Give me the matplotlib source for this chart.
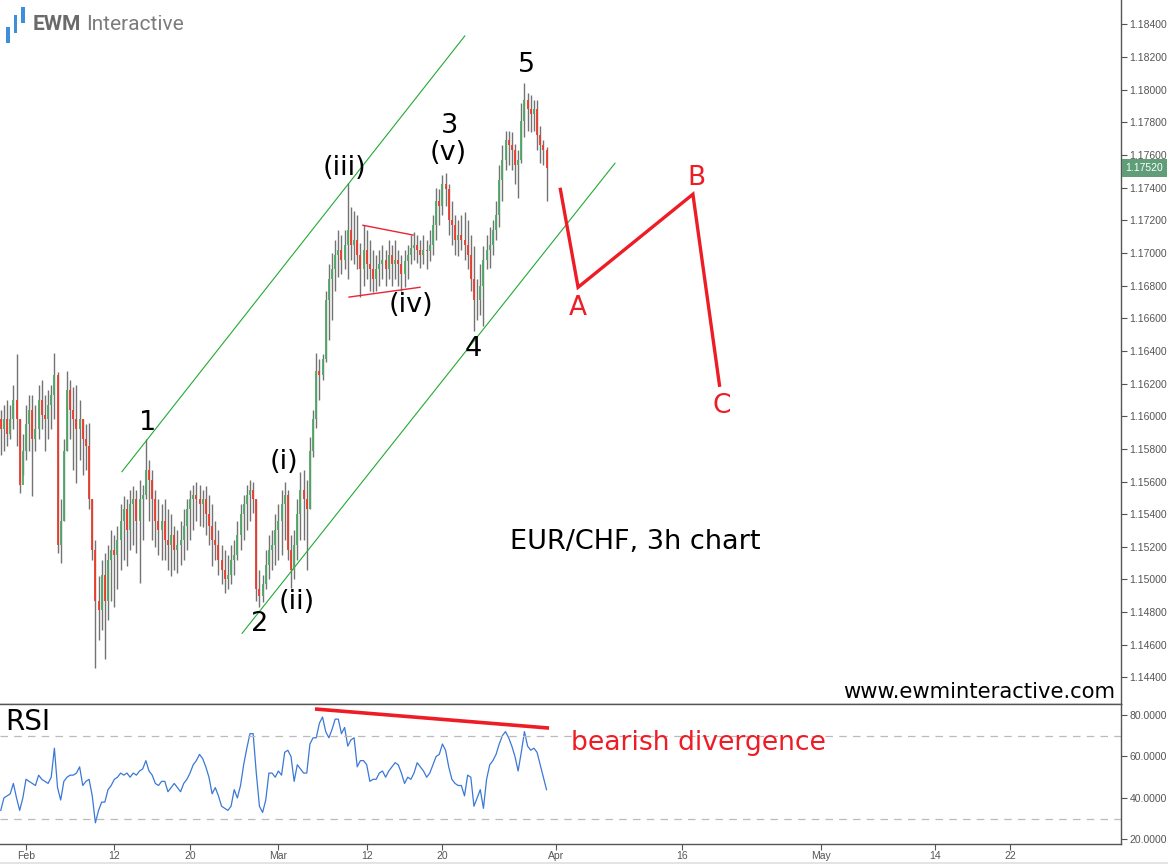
import numpy as np
import matplotlib
matplotlib.use("Agg")
import matplotlib.pyplot as plt
import matplotlib.transforms as mtransforms
from matplotlib.patches import Rectangle

plt.rcParams['font.family'] = ['DejaVu Sans']

### DATA: EUR/CHF, candles (4 per trading day, bar 0 = Jan 30) ###
highs = [
    1.1604, 1.1607, 1.1610, 1.1607, 1.1619, 1.1638, 1.1598, 1.1589, 1.1607, 1.1613,
    1.1613, 1.1607, 1.1619, 1.1622, 1.1613, 1.1616, 1.1619, 1.1639, 1.1627, 1.1549,
    1.1586, 1.1628, 1.1622, 1.1618, 1.1619, 1.1610, 1.1598, 1.1595, 1.1596, 1.1549,
    1.1524, 1.1502, 1.1512, 1.1516, 1.1521, 1.1530, 1.1527, 1.1533, 1.1546, 1.1551,
    1.1549, 1.1555, 1.1557, 1.1555, 1.1561, 1.1558, 1.1586, 1.1573, 1.1567, 1.1555,
    1.1549, 1.1546, 1.1549, 1.1543, 1.1540, 1.1533, 1.1530, 1.1536, 1.1543, 1.1549,
    1.1555, 1.1558, 1.1560, 1.1558, 1.1555, 1.1557, 1.1552, 1.1546, 1.1536, 1.1530,
    1.1521, 1.1518, 1.1515, 1.1521, 1.1524, 1.1536, 1.1546, 1.1552, 1.1558, 1.1561,
    1.1560, 1.1549, 1.1506, 1.1503, 1.1518, 1.1527, 1.1530, 1.1540, 1.1546, 1.1555,
    1.1560, 1.1555, 1.1527, 1.1530, 1.1549, 1.1566, 1.1567, 1.1561, 1.1587, 1.1604,
    1.1639, 1.1635, 1.1638, 1.1677, 1.1693, 1.1700, 1.1708, 1.1714, 1.1711, 1.1714,
    1.1743, 1.1728, 1.1726, 1.1723, 1.1706, 1.1717, 1.1714, 1.1708, 1.1702, 1.1699,
    1.1702, 1.1705, 1.1702, 1.1708, 1.1705, 1.1708, 1.1702, 1.1699, 1.1702, 1.1705,
    1.1711, 1.1713, 1.1711, 1.1708, 1.1711, 1.1708, 1.1714, 1.1723, 1.1740, 1.1739,
    1.1748, 1.1749, 1.1742, 1.1732, 1.1723, 1.1720, 1.1723, 1.1725, 1.1720, 1.1711,
    1.1704, 1.1684, 1.1693, 1.1704, 1.1711, 1.1716, 1.1720, 1.1732, 1.1754, 1.1766,
    1.1775, 1.1775, 1.1774, 1.1767, 1.1763, 1.1792, 1.1804, 1.1798, 1.1797, 1.1794,
    1.1794, 1.1778, 1.1769, 1.1765,
]
lows = [
    1.1576, 1.1579, 1.1582, 1.1586, 1.1592, 1.1582, 1.1553, 1.1564, 1.1573, 1.1579,
    1.1551, 1.1579, 1.1586, 1.1592, 1.1579, 1.1586, 1.1592, 1.1598, 1.1516, 1.1510,
    1.1536, 1.1579, 1.1586, 1.1567, 1.1559, 1.1573, 1.1564, 1.1567, 1.1543, 1.1512,
    1.1446, 1.1463, 1.1469, 1.1451, 1.1475, 1.1487, 1.1483, 1.1494, 1.1506, 1.1512,
    1.1508, 1.1518, 1.1521, 1.1516, 1.1498, 1.1524, 1.1549, 1.1536, 1.1524, 1.1520,
    1.1515, 1.1512, 1.1512, 1.1506, 1.1502, 1.1506, 1.1504, 1.1509, 1.1512, 1.1518,
    1.1524, 1.1530, 1.1536, 1.1533, 1.1532, 1.1527, 1.1521, 1.1508, 1.1512, 1.1503,
    1.1497, 1.1492, 1.1494, 1.1497, 1.1503, 1.1512, 1.1518, 1.1524, 1.1530, 1.1536,
    1.1541, 1.1487, 1.1483, 1.1486, 1.1494, 1.1500, 1.1506, 1.1509, 1.1512, 1.1515,
    1.1524, 1.1512, 1.1495, 1.1500, 1.1512, 1.1524, 1.1524, 1.1506, 1.1543, 1.1575,
    1.1593, 1.1610, 1.1622, 1.1633, 1.1647, 1.1659, 1.1677, 1.1685, 1.1687, 1.1690,
    1.1684, 1.1696, 1.1693, 1.1690, 1.1673, 1.1680, 1.1684, 1.1677, 1.1676, 1.1677,
    1.1680, 1.1684, 1.1680, 1.1684, 1.1680, 1.1684, 1.1680, 1.1677, 1.1679, 1.1684,
    1.1693, 1.1696, 1.1694, 1.1691, 1.1693, 1.1690, 1.1695, 1.1699, 1.1708, 1.1717,
    1.1723, 1.1729, 1.1711, 1.1705, 1.1699, 1.1698, 1.1702, 1.1696, 1.1690, 1.1677,
    1.1652, 1.1659, 1.1662, 1.1655, 1.1690, 1.1691, 1.1699, 1.1708, 1.1716, 1.1732,
    1.1751, 1.1754, 1.1751, 1.1742, 1.1734, 1.1755, 1.1771, 1.1775, 1.1774, 1.1775,
    1.1763, 1.1755, 1.1754, 1.1732,
]
closes = [
    1.1592, 1.1598, 1.1589, 1.1598, 1.1610, 1.1598, 1.1558, 1.1579, 1.1595, 1.1604,
    1.1586, 1.1592, 1.1610, 1.1601, 1.1598, 1.1607, 1.1613, 1.1625, 1.1521, 1.1536,
    1.1579, 1.1616, 1.1604, 1.1598, 1.1592, 1.1598, 1.1586, 1.1582, 1.1549, 1.1518,
    1.1487, 1.1481, 1.1503, 1.1487, 1.1512, 1.1518, 1.1515, 1.1524, 1.1536, 1.1543,
    1.1530, 1.1546, 1.1549, 1.1536, 1.1549, 1.1552, 1.1567, 1.1561, 1.1549, 1.1536,
    1.1530, 1.1536, 1.1524, 1.1521, 1.1527, 1.1518, 1.1521, 1.1524, 1.1533, 1.1543,
    1.1549, 1.1552, 1.1549, 1.1546, 1.1549, 1.1540, 1.1533, 1.1524, 1.1521, 1.1512,
    1.1506, 1.1500, 1.1503, 1.1512, 1.1515, 1.1527, 1.1540, 1.1546, 1.1552, 1.1555,
    1.1549, 1.1494, 1.1490, 1.1497, 1.1509, 1.1518, 1.1521, 1.1530, 1.1536, 1.1546,
    1.1552, 1.1518, 1.1506, 1.1521, 1.1540, 1.1555, 1.1549, 1.1543, 1.1579, 1.1598,
    1.1628, 1.1625, 1.1635, 1.1671, 1.1684, 1.1690, 1.1699, 1.1702, 1.1696, 1.1705,
    1.1714, 1.1705, 1.1708, 1.1699, 1.1690, 1.1702, 1.1693, 1.1690, 1.1684, 1.1690,
    1.1693, 1.1696, 1.1690, 1.1699, 1.1693, 1.1696, 1.1693, 1.1687, 1.1695, 1.1699,
    1.1703, 1.1705, 1.1702, 1.1699, 1.1702, 1.1701, 1.1705, 1.1717, 1.1732, 1.1729,
    1.1742, 1.1739, 1.1720, 1.1717, 1.1708, 1.1711, 1.1708, 1.1705, 1.1699, 1.1684,
    1.1671, 1.1671, 1.1680, 1.1696, 1.1702, 1.1705, 1.1714, 1.1723, 1.1745, 1.1757,
    1.1769, 1.1766, 1.1763, 1.1754, 1.1757, 1.1781, 1.1794, 1.1788, 1.1785, 1.1788,
    1.1772, 1.1766, 1.1763, 1.1752,
]
first_open = 1.1598
opens = [first_open] + closes[:-1]

rsi = [
    34, 40, 41, 42, 47, 40, 34, 40, 49, 48,
    47, 46, 51, 49, 48, 47, 50, 64, 45, 39,
    48, 50, 51, 51, 52, 55, 46, 48, 49, 41,
    28, 34, 38, 38, 44, 46, 49, 50, 52, 51,
    52, 50, 52, 51, 53, 54, 58, 53, 51, 47,
    46, 48, 48, 43, 45, 47, 45, 43, 47, 49,
    52, 56, 58, 61, 59, 55, 50, 42, 45, 41,
    36, 35, 34, 36, 44, 40, 46, 56, 64, 71,
    71, 52, 36, 33, 39, 52, 52, 50, 53, 51,
    62, 63, 60, 48, 56, 54, 52, 52, 66, 69,
    69, 76, 79, 72, 69, 73, 78, 78, 71, 74,
    65, 68, 69, 55, 58, 58, 56, 48, 49, 49,
    52, 53, 50, 53, 55, 57, 56, 52, 47, 50,
    49, 52, 57, 55, 53, 50, 52, 56, 60, 61,
    66, 63, 55, 49, 47, 46, 46, 41, 51, 50,
    36, 40, 44, 35, 49, 56, 58, 61, 66, 70,
    72, 69, 65, 60, 53, 62, 72, 65, 63, 64,
    62, 56, 50, 44,
]

# date ticks (bar index of the day start) and labels
tick_bars = [8, 36, 60, 88, 116, 140, 176, 216, 260, 296, 320]
tick_labels = ['Feb', '12', '20', 'Mar', '12', '20', 'Apr', '16', 'May', '14', '22']
last_price = 1.17520

# drawn analysis: (bars, prices)
channel_upper = ([38.4, 147.1], [1.1566, 1.1833])
channel_lower = ([76.5, 194.7], [1.1467, 1.1755])
tri_upper = ([114.8, 130.7], [1.1717, 1.1711])
tri_lower = ([110.4, 132.9], [1.1673, 1.1679])
abc_bars = [177.3, 183.0, 219.4, 227.9]
abc_prices = [1.1740, 1.1679, 1.1736, 1.1618]
rsi_div = ([99.6, 173.8], [82.9, 73.7])

wave_labels = [
    ('1', 46.4, 1.1596), ('2', 82.2, 1.1473), ('3', 142.1, 1.1778),
    ('4', 149.7, 1.1641), ('5', 166.5, 1.1815),
    ('(i)', 89.8, 1.1572), ('(ii)', 93.9, 1.1486), ('(iii)', 109.0, 1.1752),
    ('(iv)', 130.0, 1.1668), ('(v)', 141.8, 1.1761),
]
abc_labels = [('A', 183.0, 1.1666), ('B', 220.4, 1.1746), ('C', 228.6, 1.1606)]


W, H = 1168, 864
fig = plt.figure(figsize=(W / 100, H / 100), dpi=100)
fig.patch.set_facecolor('white')

ax_w = 1121 / W
ax = fig.add_axes([0, (H - 704) / H, ax_w, 704 / H])
ax_r = fig.add_axes([0, (H - 844) / H, ax_w, 140 / H], sharex=ax)

spine_col = '#555555'
tick_col = '#555555'

### candles ###
x = np.arange(len(closes))
o = np.array(opens)
c = np.array(closes)
up = c >= o
ax.vlines(x, lows, highs, color='#737373', lw=1.0, zorder=2)
ax.vlines(x[up], o[up], c[up], color='#4ea866', lw=1.3, zorder=3)
ax.vlines(x[~up], c[~up], o[~up], color='#ee3a2c', lw=1.3, zorder=3)

# channel and triangle
ax.plot(*channel_upper, color='#22aa33', lw=0.8)
ax.plot(*channel_lower, color='#22aa33', lw=0.8)
ax.plot(*tri_upper, color='#ee2233', lw=1.0)
ax.plot(*tri_lower, color='#ee2233', lw=1.0)
ax.plot(abc_bars, abc_prices, color='#ee1c25', lw=2.4, solid_capstyle='butt', solid_joinstyle='miter')

for txt, bx, py in wave_labels:
    ax.text(bx, py, txt, ha='center', va='center', fontsize=19.5, color='black')
for txt, bx, py in abc_labels:
    ax.text(bx, py, txt, ha='center', va='center', fontsize=19, color='#ee1c25')

ax.text(0.5665, 0.230, 'EUR/CHF, 3h chart', transform=ax.transAxes,
        ha='center', va='center', fontsize=19.5, color='black')
ax.text(0.9946, 0.017, 'www.ewminteractive.com', transform=ax.transAxes,
        ha='right', va='center', fontsize=15.2, color='black')

ax.set_xlim(-0.24, 355.1)
ax.set_ylim(1.14237, 1.1855)
ax.yaxis.tick_right()
ax.set_yticks(np.arange(1.144, 1.1845, 0.002))
ax.set_yticklabels(['%.5f' % v for v in np.arange(1.144, 1.1845, 0.002)])
ax.tick_params(axis='y', direction='out', length=4, width=0.8, color=tick_col,
               labelsize=7.5, labelcolor=tick_col, pad=2)
ax.tick_params(axis='x', bottom=False, labelbottom=False)
for lbl in ax.get_yticklabels():
    lbl.set_fontfamily('Liberation Sans')
for s in ['top', 'left']:
    ax.spines[s].set_visible(False)
for s in ['right', 'bottom']:
    ax.spines[s].set_color(spine_col)
    ax.spines[s].set_linewidth(1.0)

# last price tag
tr = mtransforms.blended_transform_factory(ax.transAxes, ax.transData)
ax.text(1.004, last_price, '%.5f' % last_price, transform=tr, ha='left', va='center',
        fontsize=7.5, color='white', family='Liberation Sans', zorder=10,
        bbox=dict(boxstyle='square,pad=0.35', fc='#5f9e79', ec='none'))

### RSI ###
ax_r.plot(x, rsi, color='#3a78d8', lw=0.9)
ax_r.axhline(70, color='#bbbbbb', lw=0.9, ls=(0, (6, 5)))
ax_r.axhline(30, color='#bbbbbb', lw=0.9, ls=(0, (6, 5)))
ax_r.plot(*rsi_div, color='#ee1c25', lw=2.6, solid_capstyle='butt')
ax_r.text(0.005, 0.871, 'RSI', transform=ax_r.transAxes, ha='left', va='center',
          fontsize=20, color='black')
ax_r.text(0.509, 0.721, 'bearish divergence', transform=ax_r.transAxes, ha='left',
          va='center', fontsize=19.2, color='#ee1c25')

ax_r.set_ylim(17.8, 85.3)
ax_r.yaxis.tick_right()
ax_r.set_yticks([20, 40, 60, 80])
ax_r.set_yticklabels(['%.4f' % v for v in [20, 40, 60, 80]])
ax_r.tick_params(axis='y', direction='out', length=4, width=0.8, color=tick_col,
                 labelsize=7.5, labelcolor=tick_col, pad=2)
ax_r.set_xticks(tick_bars)
ax_r.set_xticklabels(tick_labels)
ax_r.tick_params(axis='x', direction='out', length=4, width=0.8, color=tick_col,
                 labelsize=7.5, labelcolor=tick_col, pad=1)
for lbl in ax_r.get_yticklabels() + ax_r.get_xticklabels():
    lbl.set_fontfamily('Liberation Sans')
ax_r.spines['left'].set_visible(False)
for s in ['top', 'right', 'bottom']:
    ax_r.spines[s].set_color(spine_col)
    ax_r.spines[s].set_linewidth(1.0)

### logo ###
for (x0, y0, x1, y1) in [(6, 27, 9.5, 43), (13.5, 15, 17, 33), (21, 7, 24.5, 23)]:
    fig.add_artist(Rectangle((x0 / W, 1 - y1 / H), (x1 - x0) / W, (y1 - y0) / H,
                             transform=fig.transFigure, color='#3d8edb', lw=0))
fig.text(33 / W, 1 - 25 / H, 'EWM', fontsize=15, fontweight='bold', color='#6a6a6a',
         family='Roboto', va='center', ha='left')
fig.text(86 / W, 1 - 25 / H, 'Interactive', fontsize=15, color='#7c7c7c',
         family='Roboto', va='center', ha='left')

fig.add_artist(Rectangle((0, 0), 1, 2 / H, transform=fig.transFigure, color='#e4e4e4', lw=0))

fig.savefig('out.png', dpi=100)
